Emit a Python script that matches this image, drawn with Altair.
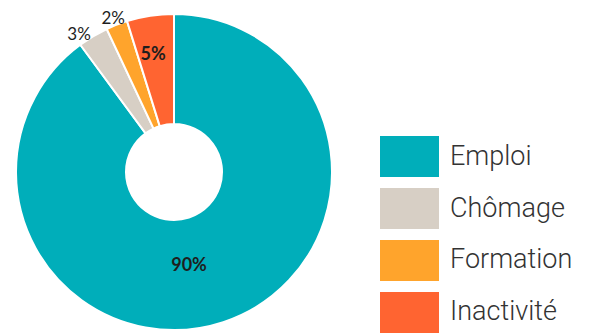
import altair as alt
import pandas as pd

categories = ["Emploi", "Chômage", "Formation", "Inactivité"]
values = [89.9, 3.1, 2.2, 4.8]
colors = ["#00AEBA", "#D7CFC5", "#FFA42C", "#FF6431"]

df = pd.DataFrame({
    "category": categories,
    "value": values,
    "idx": list(range(len(categories))),
})

color_scale = alt.Scale(domain=categories, range=colors)
FONT = "Lato"
LEGEND_FONT = "Roboto"

base = alt.Chart(df).encode(
    theta=alt.Theta("value:Q", stack=True),
    order=alt.Order("idx:Q"),
)

arcs = base.mark_arc(outerRadius=158, innerRadius=48, stroke="white", strokeWidth=2).encode(
    color=alt.Color("category:N", scale=color_scale, legend=None)
)

# label settings per category: (radius, dx, dy, weight, size)
label_style = {
    "Emploi": (93, -14, 6, "bold", 18),
    "Chômage": (168, -9, 7, "normal", 17),
    "Formation": (168, 0, 4, "normal", 17),
    "Inactivité": (119, -3, 1, "bold", 18),
}

label_layers = []
for cat in categories:
    r, dx, dy, w, fs = label_style[cat]
    lay = base.transform_calculate(
        lbl=f"datum.category === '{cat}' ? format(datum.value, '.0f') + '%' : ''"
    ).mark_text(
        radius=r, dx=dx, dy=dy, font=FONT, fontSize=fs, fontWeight=w,
        color="#1e1e1e", align="center", baseline="middle"
    ).encode(text="lbl:N")
    label_layers.append(lay)

pie = alt.layer(arcs, *label_layers).properties(width=332, height=328)

leg_y = alt.Y(
    "category:N", sort=categories, axis=None,
    scale=alt.Scale(range=[128, 325], paddingInner=0.2115, paddingOuter=0),
)
legend_rects = alt.Chart(df).mark_rect().encode(
    y=leg_y,
    x=alt.value(40),
    x2=alt.value(99),
    color=alt.Color("category:N", scale=color_scale, legend=None),
)
legend_text = alt.Chart(df).mark_text(
    align="left", baseline="middle", font=LEGEND_FONT, fontSize=27, fontWeight=300, color="#333333"
).encode(
    y=leg_y,
    x=alt.value(110),
    text="category:N",
)
legend = alt.layer(legend_rects, legend_text).properties(width=236, height=328)

chart = alt.hconcat(pie, legend, spacing=0).properties(
    padding={"top": 0, "left": 0, "right": 576, "bottom": 327},
    autosize=alt.AutoSizeParams(type="none"),
).configure_view(strokeWidth=0)

chart.save("out.html", embed_options={"renderer": "svg", "actions": False})
